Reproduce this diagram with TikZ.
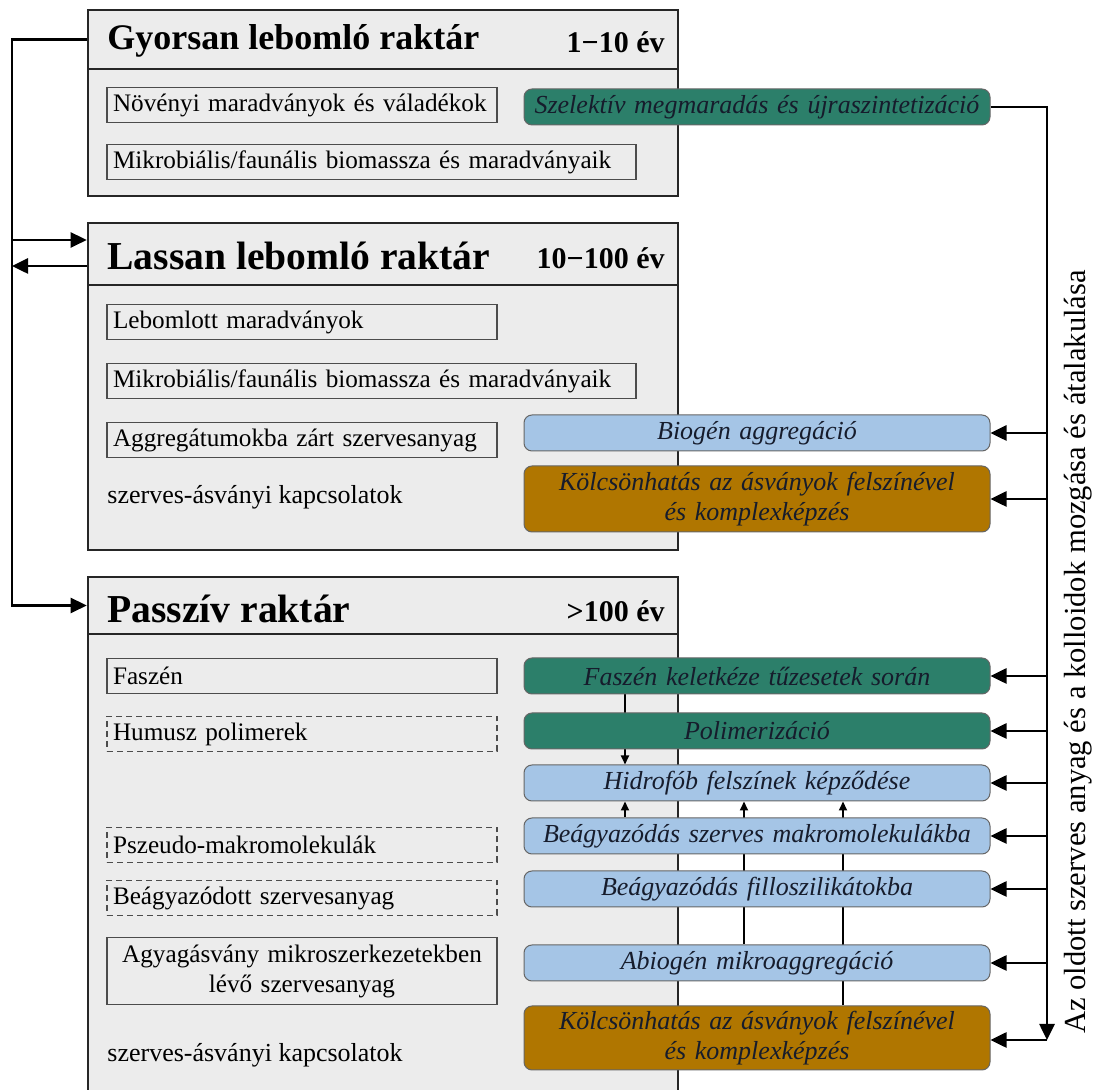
\documentclass[tikz,border=0pt]{standalone}
\usepackage{fontspec}
\setmainfont{Liberation Serif}
\usetikzlibrary{arrows.meta, positioning, backgrounds}

\definecolor{zold}{RGB}{44,127,106}
\definecolor{kek}{RGB}{165,197,230}
\definecolor{barna}{RGB}{176,118,0}
\definecolor{hatter}{RGB}{236,236,236}
\definecolor{betu}{RGB}{22,28,44}

\tikzset{
  raktar/.style={draw=black!85, line width=1.3pt, fill=hatter, inner sep=0pt, minimum width=295pt},
  cim/.style={anchor=west, inner sep=0pt, font=\fontsize{19.8}{23}\selectfont\bfseries},
  ido/.style={anchor=east, inner sep=0pt, font=\fontsize{15}{18}\selectfont\bfseries},
  tag/.style={draw=black!70, line width=0.6pt, inner xsep=3pt, inner ysep=2pt, text width=189pt, minimum height=17.5pt, align=left, font=\fontsize{12.6}{15}\selectfont},
  hosszu/.style={tag, text width=258.5pt},
  szaggatott/.style={tag, dash pattern=on 3pt off 2pt},
  szoveg/.style={anchor=west, inner sep=0pt, font=\fontsize{13}{15}\selectfont},
  folyamat/.style={draw=black!60, line width=0.5pt, rounded corners=4pt, minimum width=233pt, minimum height=18pt, text width=225pt, inner sep=2pt, align=center, text=betu, font=\fontsize{13}{15}\selectfont\itshape},
  nyil/.style={line width=1.3pt, -{Triangle[length=8pt,width=7.5pt]}},
  kisnyil/.style={line width=1pt, -{Triangle[length=4.5pt,width=4pt]}}
}

\begin{document}
\begin{tikzpicture}[x=0.5pt, y=-0.5pt]
	\useasboundingbox (0,0) rectangle (1094,1090);

	\begin{scope}[on background layer]
		\node[raktar, minimum height=29.5pt] (gyfej) at (383,39.5) {};
		\node[raktar, minimum height=63.5pt] (gytest) at (383,132.5) {};
		\node[raktar, minimum height=31pt] (lafej) at (383,254) {};
		\node[raktar, minimum height=132.5pt] (latest) at (383,417.5) {};
		\node[raktar, minimum height=28.5pt] (pafej) at (383,605.5) {};
		\node[raktar, minimum height=238pt] (patest) at (383,872) {};
	\end{scope}

	\node[cim, font=\fontsize{18}{22}\selectfont\bfseries] (gycim) at (107,41) {Gyorsan lebomló raktár};
	\node[ido] (gyido) at (665,42) {1−10 év};
	\node[tag] (noveny) at (302,105) {Növényi maradványok és váladékok};
	\node[hosszu] (mikro1) at (371.5,162) {Mikrobiális/faunális biomassza és maradványaik};
	\node[folyamat, fill=zold] (szelektiv) at (757,107) {Szelektív megmaradás és újraszintetizáció};

	\node[cim] (lacim) at (107,256) {Lassan lebomló raktár};
	\node[ido] (laido) at (665,258) {10−100 év};
	\node[tag] (lebomlott) at (302,322) {Lebomlott maradványok};
	\node[hosszu] (mikro2) at (371.5,381) {Mikrobiális/faunális biomassza és maradványaik};
	\node[tag] (aggregatum) at (302,440) {Aggregátumokba zárt szervesanyag};
	\node[szoveg] (kapcs1) at (107,497) {szerves-ásványi kapcsolatok};
	\node[folyamat, fill=kek] (biogen) at (757,433) {Biogén aggregáció};
	\node[folyamat, fill=barna, minimum height=33pt] (kolcs1) at (757,499) {Kölcsönhatás az ásványok felszínével\\ és komplexképzés};

	\node[cim] (pacim) at (107,609) {Passzív raktár};
	\node[ido] (paido) at (665,611) {>100 év};
	\node[tag] (faszen) at (302,676) {Faszén};
	\node[szaggatott] (humusz) at (302,734) {Humusz polimerek};
	\node[szaggatott] (pszeudo) at (302,845) {Pszeudo-makromolekulák};
	\node[szaggatott] (beagyazott) at (302,898) {Beágyazódott szervesanyag};
	\node[tag, align=center, minimum height=33.5pt] (agyag) at (302,971) {Agyagásvány mikroszerkezetekben\\ lévő szervesanyag};
	\node[szoveg] (kapcs2) at (107,1055) {szerves-ásványi kapcsolatok};

	\node[folyamat, fill=zold] (faszenk) at (757,676) {Faszén keletkéze tűzesetek során};
	\node[folyamat, fill=zold] (polimer) at (757,731) {Polimerizáció};
	\node[folyamat, fill=kek] (hidrofob) at (757,783) {Hidrofób felszínek képződése};
	\node[folyamat, fill=kek] (makro) at (757,836) {Beágyazódás szerves makromolekulákba};
	\node[folyamat, fill=kek] (fillo) at (757,889) {Beágyazódás filloszilikátokba};
	\node[folyamat, fill=kek] (abiogen) at (757,963) {Abiogén mikroaggregáció};
	\node[folyamat, fill=barna, minimum height=32pt] (kolcs2) at (757,1038) {Kölcsönhatás az ásványok felszínével\\ és komplexképzés};

	\node[rotate=90, font=\fontsize{15.3}{18}\selectfont] (mozgas) at (1078,652) {Az oldott szerves anyag és a kolloidok mozgása és átalakulása};

	\coordinate (bal) at (12,0);
	\coordinate (jobb) at (1047,1040);
	\coordinate (labe) at ([yshift=7pt]lafej.west);
	\coordinate (laki) at ([yshift=-6pt]lafej.west);

	\draw[nyil] (gyfej.west) -- (gyfej.west -| bal) -- (pafej.west -| bal) -- (pafej.west);
	\draw[nyil] (labe -| bal) -- (labe);
	\draw[nyil] (laki) -- (laki -| bal);

	\draw[nyil] (szelektiv.east) -| (jobb);
	\draw[nyil] (jobb) -- (kolcs2.east |- jobb);
	\foreach \n in {biogen, kolcs1, faszenk, polimer, hidrofob, makro, fillo, abiogen}
		\draw[nyil] (\n.east -| jobb) -- (\n.east);

	\begin{scope}[on background layer]
		\draw[kisnyil] ([xshift=-66pt]faszenk.south) -- ([xshift=-66pt]hidrofob.north);
		\draw[kisnyil] ([xshift=-66pt]makro.north) -- ([xshift=-66pt]hidrofob.south);
		\draw[kisnyil] ([xshift=-6.5pt]abiogen.north) -- ([xshift=-6.5pt]hidrofob.south);
		\draw[kisnyil] ([xshift=43pt]kolcs2.north) -- ([xshift=43pt]hidrofob.south);
	\end{scope}
\end{tikzpicture}
\end{document}
